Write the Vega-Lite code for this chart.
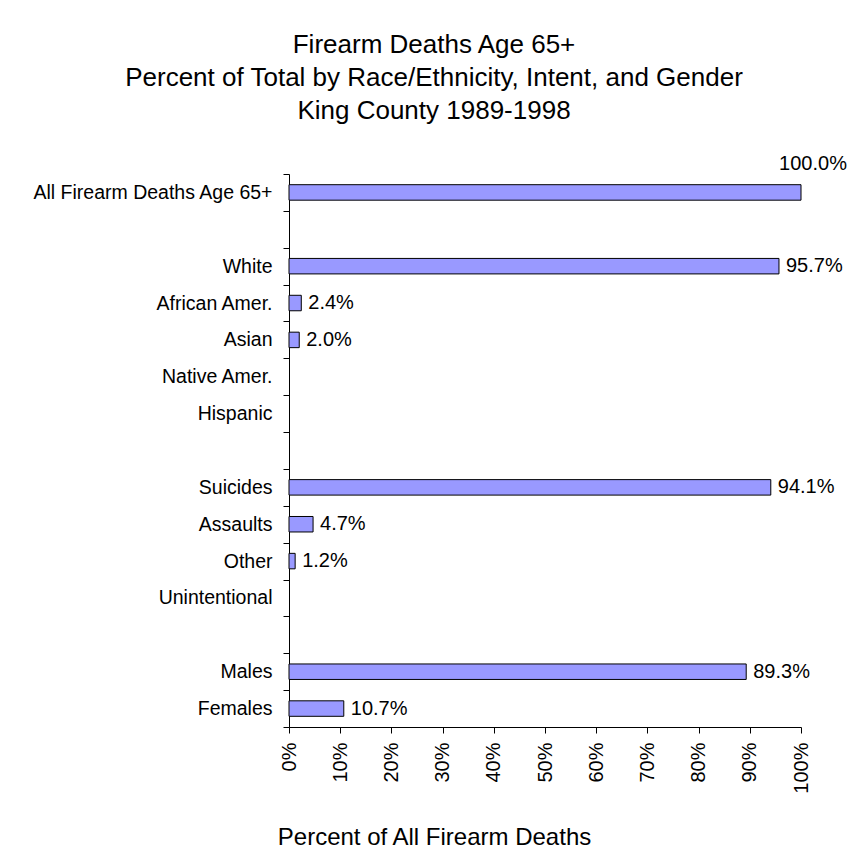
{
  "$schema": "https://vega.github.io/schema/vega-lite/v6.json",
  "width": 512,
  "height": 553,
  "autosize": {"type": "none"},
  "padding": {"left": 289, "top": 174, "right": 53, "bottom": 123},
  "background": "white",
  "title": {
    "text": ["Firearm Deaths Age 65+", "Percent of Total by Race/Ethnicity, Intent, and Gender", "King County 1989-1998"],
    "font": "Liberation Sans",
    "fontSize": 26,
    "fontWeight": "normal",
    "lineHeight": 33,
    "anchor": "middle",
    "frame": "group",
    "dx": -111,
    "dy": -20,
    "offset": 10,
    "color": "black"
  },
  "config": {
    "view": {"stroke": null},
    "font": "Liberation Sans",
    "text": {"font": "Liberation Sans", "color": "black"}
  },
  "data": {
    "values": [
      {"category": "All Firearm Deaths Age 65+", "pct": 1.0},
      {"category": "White", "pct": 0.957},
      {"category": "African Amer.", "pct": 0.024},
      {"category": "Asian", "pct": 0.020},
      {"category": "Native Amer.", "pct": null},
      {"category": "Hispanic", "pct": null},
      {"category": "Suicides", "pct": 0.941},
      {"category": "Assaults", "pct": 0.047},
      {"category": "Other", "pct": 0.012},
      {"category": "Unintentional", "pct": null},
      {"category": "Males", "pct": 0.893},
      {"category": "Females", "pct": 0.107}
    ]
  },
  "encoding": {
    "y": {
      "field": "category",
      "type": "nominal",
      "sort": null,
      "scale": {
        "domain": ["All Firearm Deaths Age 65+", " ", "White", "African Amer.", "Asian", "Native Amer.", "Hispanic", "  ", "Suicides", "Assaults", "Other", "Unintentional", "   ", "Males", "Females"],
        "paddingInner": 0,
        "paddingOuter": 0
      },
      "axis": {
        "title": null,
        "tickBand": "extent",
        "tickSize": 6,
        "labelPadding": 11,
        "labelFontSize": 19.5,
        "labelFont": "Liberation Sans",
        "labelLimit": 400,
        "labelColor": "black",
        "domainColor": "black",
        "tickColor": "black",
        "grid": false
      }
    },
    "x": {
      "field": "pct",
      "type": "quantitative",
      "scale": {"domain": [0, 1], "nice": false},
      "axis": {
        "values": [0, 0.1, 0.2, 0.3, 0.4, 0.5, 0.6, 0.7, 0.8, 0.9, 1.0],
        "format": ".0%",
        "labelAngle": 270,
        "labelFontSize": 20,
        "labelFont": "Liberation Sans",
        "labelColor": "black",
        "labelPadding": 9,
        "tickSize": 6,
        "tickColor": "black",
        "domainColor": "black",
        "grid": false,
        "title": "Percent of All Firearm Deaths",
        "titleFont": "Liberation Sans",
        "titleFontSize": 24,
        "titleFontWeight": "normal",
        "titleColor": "black",
        "titleX": 145,
        "titleY": 117.5,
        "titleAlign": "center",
        "titleBaseline": "alphabetic"
      }
    }
  },
  "layer": [
    {
      "mark": {"type": "bar", "fill": "#9999FF", "stroke": "black", "strokeWidth": 1, "height": {"band": 0.42}}
    },
    {
      "transform": [{"filter": "isValid(datum.pct) && datum.pct < 1"}],
      "mark": {"type": "text", "align": "left", "baseline": "middle", "dx": 7, "fontSize": 20},
      "encoding": {"text": {"field": "pct", "type": "quantitative", "format": ".1%"}}
    },
    {
      "transform": [{"filter": "isValid(datum.pct) && datum.pct >= 1"}],
      "mark": {"type": "text", "align": "center", "baseline": "middle", "dx": 12, "dy": -28.5, "fontSize": 20},
      "encoding": {"text": {"field": "pct", "type": "quantitative", "format": ".1%"}}
    }
  ]
}
